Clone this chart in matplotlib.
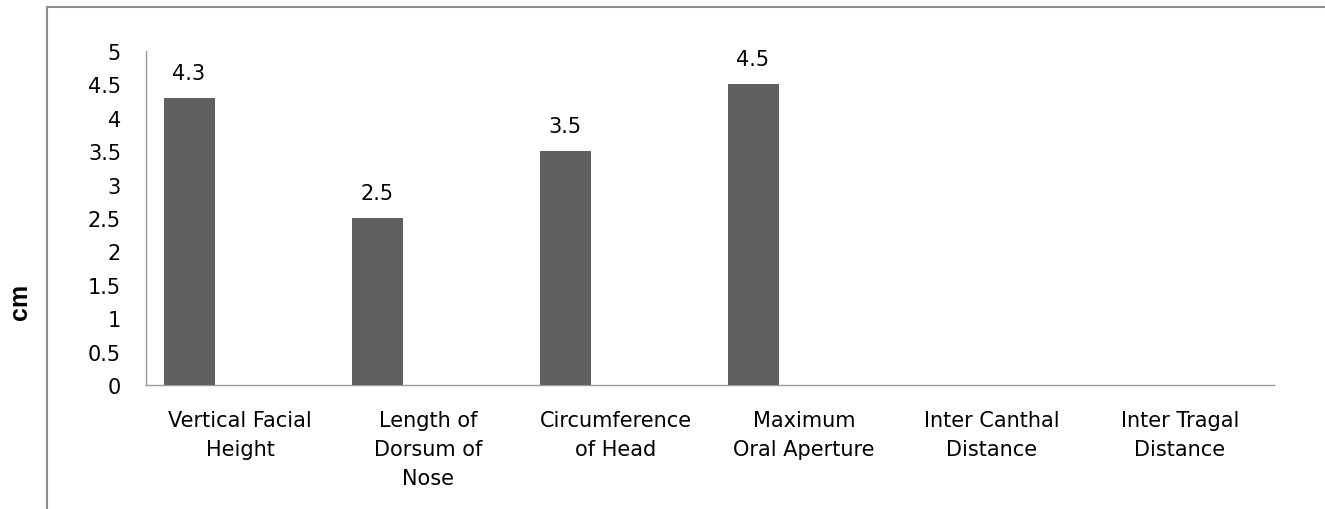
import matplotlib.pyplot as plt
from matplotlib.patches import Rectangle

# data
categories = [
    "Vertical Facial\nHeight",
    "Length of\nDorsum of\nNose",
    "Circumference\nof Head",
    "Maximum\nOral Aperture",
    "Inter Canthal\nDistance",
    "Inter Tragal\nDistance",
]
values = [4.3, 2.5, 3.5, 4.5, None, None]
y_ticks = [0, 0.5, 1, 1.5, 2, 2.5, 3, 3.5, 4, 4.5, 5]
y_tick_labels = ["0", "0.5", "1", "1.5", "2", "2.5", "3", "3.5", "4", "4.5", "5"]

W, H = 1325, 510
plt.rcParams['font.family'] = ['DejaVu Sans']

fig = plt.figure(figsize=(W / 100, H / 100), dpi=100)
ax = fig.add_axes([146 / W, (H - 386) / H, 1128 / W, (386 - 52) / H])

# the data sits in the first of three series slots per category
bar_w = 0.271
offset = -0.271
xs = [i + offset for i, v in enumerate(values) if v is not None]
hs = [v for v in values if v is not None]
ax.bar(xs, hs, width=bar_w, color='#606060', zorder=3)

for x, v in zip(xs, hs):
    ax.annotate(f"{v:g}", (x, v), xytext=(0, 18), textcoords='offset points',
                ha='center', va='center', fontsize=15, color='black')

ax.set_xlim(-0.5, len(categories) - 0.5)
ax.set_ylim(0, 5)
ax.set_xticks(range(len(categories)))
ax.set_xticklabels(categories, fontsize=15, linespacing=1.55)
ax.set_yticks(y_ticks)
ax.set_yticklabels(y_tick_labels, fontsize=15)
ax.tick_params(axis='x', length=0, pad=18)
ax.tick_params(axis='y', length=0, pad=18)

for s in ['top', 'right']:
    ax.spines[s].set_visible(False)
for s in ['left', 'bottom']:
    ax.spines[s].set_color('#9a9a9a')
    ax.spines[s].set_linewidth(1.0)

ax.set_ylabel("cm", family='Liberation Sans', fontweight='bold', fontsize=18)
ax.yaxis.set_label_coords(-(146 - 20) / 1128, (386 - 302) / (386 - 52))
ax.yaxis.label.set_va('center')

# outer chart frame (runs off the right and bottom edges)
fig.patches.append(Rectangle((47 / W, -0.1), 2, (H - 8) / H + 0.1,
                             transform=fig.transFigure, fill=False,
                             edgecolor='#8c8c8c', linewidth=1.5))

fig.savefig("out.png", dpi=100)
